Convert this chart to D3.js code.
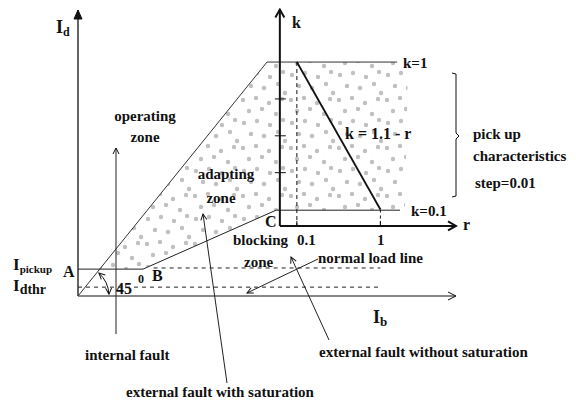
<!DOCTYPE html>
<html>
<head>
<meta charset="utf-8">
<script src="https://cdn.jsdelivr.net/npm/d3@7"></script>
<style>
  body { margin: 0; background: #fff; }
</style>
</head>
<body>
<div id="chart"></div>
<script>
// main plane, Ib / Id in diagram units
var axisMax = 10;
var iDthr = 0.31;
var iPickup = 0.94;
var pointB = [1.72, iPickup];
var pointC = [5.24, 3.0];
var topLeft = [5.0, 8.18];
var zoneRight = 8.73;
var lineEnd = 8.0;       // dashed load lines end here
// shaded (adapting + pick up) area
var zoneOutline = [[0.575, iPickup], topLeft, [zoneRight, 8.18], [8.65, 3.0], pointC, pointB];

// inset r / k plane
var insetOrigin = [5.34, 2.45];
var rStops = [0, 0.1, 1];
var rStopsX = [5.34, 5.79, 8.0];
var kMax = 1.32;
var kTicks = [0.325, 0.55, 0.775];
var rTicks = [0.1, 1];
var kTop = 1, kBottom = 0.1;

var width = 576, height = 402;
var serif = '"Liberation Serif", "Times New Roman", Times, serif';

var svg = d3.select('#chart').append('svg')
  .attr('width', width)
  .attr('height', height)
  .attr('font-family', serif)
  .attr('font-weight', 'bold');

var x = d3.scaleLinear().domain([0, axisMax]).range([78, 456]);
var y = d3.scaleLinear().domain([0, axisMax]).range([296, 10]);

var rScale = d3.scaleLinear().domain(rStops).range(rStopsX.map(x));
var kScale = d3.scaleLinear().domain([0, 1]).range([y(insetOrigin[1]), y(8.18)]);

var defs = svg.append('defs');

// dotted texture (irregular tile)
var pat = defs.append('pattern')
  .attr('id', 'dots')
  .attr('patternUnits', 'userSpaceOnUse')
  .attr('width', 48).attr('height', 48);
[[3, 4], [16, 2], [29, 7], [42, 3], [9, 15], [22, 13], [36, 18], [4, 27], [17, 25],
 [30, 29], [43, 24], [11, 38], [24, 40], [38, 36], [45, 45]].forEach(function (p) {
  pat.append('circle').attr('cx', p[0]).attr('cy', p[1]).attr('r', 2.2).attr('fill', '#c0c0c0');
});

function marker(id, path, filled, sw) {
  defs.append('marker')
    .attr('id', id)
    .attr('viewBox', '-10 -6 12 12')
    .attr('refX', 0).attr('refY', 0)
    .attr('markerWidth', 12).attr('markerHeight', 12)
    .attr('markerUnits', 'userSpaceOnUse')
    .attr('orient', 'auto-start-reverse')
    .append('path')
    .attr('d', path)
    .attr('fill', filled ? '#111' : 'none')
    .attr('stroke', '#111')
    .attr('stroke-width', sw);
}
marker('tri', 'M-9,-4L0,0L-9,4Z', true, 1);
marker('chev', 'M-8,-4L0,0L-8,4', false, 1);
marker('chevBold', 'M-8,-4.5L0,0L-8,4.5', false, 2);
marker('small', 'M-6,-3L0,0L-6,3', false, 1);

var line = d3.line().x(function (d) { return x(d[0]); }).y(function (d) { return y(d[1]); });

// shaded zone
svg.append('path')
  .attr('d', line(zoneOutline) + 'Z')
  .attr('fill', 'url(#dots)');

// main axes
svg.append('line')
  .attr('x1', x(0)).attr('y1', y(0)).attr('x2', x(0)).attr('y2', y(axisMax))
  .attr('stroke', '#111').attr('stroke-width', 1.3).attr('marker-end', 'url(#tri)');
svg.append('line')
  .attr('x1', x(0)).attr('y1', y(0)).attr('x2', x(axisMax)).attr('y2', y(0))
  .attr('stroke', '#111').attr('stroke-width', 1).attr('marker-end', 'url(#chev)');

// characteristic lines
svg.append('path').attr('d', line([[0, 0], topLeft, [8.44, 8.18]]))
  .attr('fill', 'none').attr('stroke', '#333').attr('stroke-width', 1);
svg.append('path').attr('d', line([[0, iPickup], pointB, pointC, [8.52, 3.0]]))
  .attr('fill', 'none').attr('stroke', '#222').attr('stroke-width', 1);

// dashed load lines
svg.append('path').attr('d', line([[2.0, iPickup + 0.04], [lineEnd, iPickup + 0.04]]))
  .attr('stroke', '#222').attr('stroke-dasharray', '4,4').attr('fill', 'none');
svg.append('path').attr('d', line([[0, iDthr], [lineEnd, iDthr]]))
  .attr('stroke', '#222').attr('stroke-dasharray', '4,4').attr('fill', 'none');

// inset axes
var ox = rScale(0), oy = kScale(0);
svg.append('line')
  .attr('x1', ox).attr('y1', oy).attr('x2', ox).attr('y2', kScale(kMax))
  .attr('stroke', '#111').attr('stroke-width', 2).attr('marker-end', 'url(#chevBold)');
svg.append('line')
  .attr('x1', ox).attr('y1', oy).attr('x2', x(10)).attr('y2', oy)
  .attr('stroke', '#111').attr('stroke-width', 2).attr('marker-end', 'url(#chevBold)');

svg.selectAll('.ktick').data(kTicks).enter().append('line')
  .attr('x1', ox - 5).attr('x2', ox + 6)
  .attr('y1', function (d) { return kScale(d); })
  .attr('y2', function (d) { return kScale(d); })
  .attr('stroke', '#111').attr('stroke-width', 1);
svg.selectAll('.rtick').data(rTicks).enter().append('line')
  .attr('x1', function (d) { return rScale(d); })
  .attr('x2', function (d) { return rScale(d); })
  .attr('y1', oy - 5).attr('y2', oy)
  .attr('stroke', '#111').attr('stroke-width', 1);

// k = 1.1 - r
svg.append('line')
  .attr('x1', rScale(0.1)).attr('y1', kScale(1.1 - 0.1))
  .attr('x2', rScale(1)).attr('y2', kScale(1.1 - 1))
  .attr('stroke', '#111').attr('stroke-width', 1.8);
svg.append('line')
  .attr('x1', rScale(0.1)).attr('y1', kScale(kTop)).attr('x2', rScale(0.1)).attr('y2', oy)
  .attr('stroke', '#111').attr('stroke-dasharray', '4,3');
svg.append('line')
  .attr('x1', rScale(1)).attr('y1', kScale(kBottom)).attr('x2', rScale(1)).attr('y2', oy)
  .attr('stroke', '#111').attr('stroke-dasharray', '3,3');

// brace
svg.append('path')
  .attr('d', 'M452,73L456,74L456,133L459,136L456,139L456,196L452,197')
  .attr('fill', 'none').attr('stroke', '#111');

// 45 degree arc, arrow at both ends
var arcR = 31;
var a1 = -Math.atan2(y(0) - y(topLeft[1]), x(topLeft[0]) - x(0)) + 0.06;
var a2 = -0.06;
var arcPath = d3.path();
arcPath.moveTo(x(0) + arcR * Math.cos(a1), y(0) + arcR * Math.sin(a1));
arcPath.arc(x(0), y(0), arcR, a1, a2, false);
svg.append('path').attr('d', arcPath.toString())
  .attr('fill', 'none').attr('stroke', '#111')
  .attr('marker-start', 'url(#small)').attr('marker-end', 'url(#small)');

// pointer arrows
var pointers = [
  [[116, 334], [116, 148]],
  [[227, 383], [203, 214]],
  [[318, 259], [247, 293]],
  [[329, 340], [291, 257]]
];
svg.selectAll('.ptr').data(pointers).enter().append('line')
  .attr('x1', function (d) { return d[0][0]; }).attr('y1', function (d) { return d[0][1]; })
  .attr('x2', function (d) { return d[1][0]; }).attr('y2', function (d) { return d[1][1]; })
  .attr('stroke', '#222').attr('stroke-width', 1)
  .attr('marker-end', 'url(#small)');

// labels
function label(t, px, py, size, anchor) {
  return svg.append('text').attr('x', px).attr('y', py)
    .attr('font-size', size).attr('text-anchor', anchor || 'start')
    .attr('fill', '#111').text(t);
}
function sub(main, s, px, py, size, subSize) {
  var t = svg.append('text').attr('x', px).attr('y', py).attr('font-size', size).attr('fill', '#111');
  t.append('tspan').text(main);
  t.append('tspan').attr('font-size', subSize).attr('dy', 3).text(s);
  return t;
}

sub('I', 'd', 56, 33, 18, 12);
sub('I', 'b', 373, 323, 18, 13);
sub('I', 'pickup', 13, 270, 17, 11);
sub('I', 'dthr', 13, 291, 17, 14);
label('A', 63, 277, 16);
label('B', 152, 281, 16);
label('45', 116, 294, 16);
label('0', 138, 283, 12);
label('C', 265, 227, 16);

label('operating', 145, 121, 15, 'middle');
label('zone', 145, 142, 15, 'middle');
label('adapting', 226, 179, 15, 'middle');
label('zone', 221, 203, 15, 'middle');
label('blocking', 233, 245, 15);
label('zone', 244, 267, 15);
label('0.1', 297, 245, 15);
label('1', 377, 245, 15);
label('normal load line', 318, 263, 15);
label('internal fault', 85, 360, 15);
label('external fault without saturation', 319, 357, 15);
label('external fault with saturation', 126, 397, 15);

label('k', 292, 28, 16);
label('k=1', 403, 68, 15);
label('k = 1.1 - r', 345, 139, 16);
label('k=0.1', 411, 216, 15);
label('r', 463, 230, 16);
label('pick up', 473, 139, 15);
label('characteristics', 473, 161, 15);
label('step=0.01', 475, 188, 15);
</script>
</body>
</html>
